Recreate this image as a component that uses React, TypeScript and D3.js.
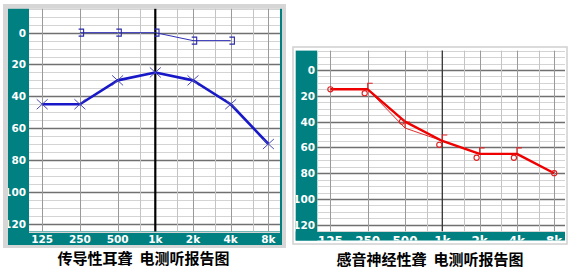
import React from "react";
import * as d3 from "d3";

const FREQS = [125, 250, 500, 1000, 2000, 4000, 8000];
const FREQ_LABELS = ["125", "250", "500", "1k", "2k", "4k", "8k"];
const HALF_FREQS = [750, 1500, 3000, 6000];
const DB_LABELS = [0, 20, 40, 60, 80, 100, 120];
const DB_LINES = d3.range(-15, 126, 5);

// left: conductive hearing loss
const LEFT_AC = [45, 45, 30, 25, 30, 45, 70];
const LEFT_BC_FREQS = [250, 500, 1000, 2000, 4000];
const LEFT_BC = [0, 0, 0, 5, 5];

// right: sensorineural hearing loss
const RIGHT_LINE = [15, 15, 40, 55, 65, 65, 80];
const RIGHT_BC_FREQS = [250, 500, 1000, 2000, 4000];
const RIGHT_BC = [15, 45, 55, 65, 65];
const RIGHT_O = [15, 18, 40, 58, 68, 68, 80];

const TITLE_LEFT = "传导性耳聋  电测听报告图";
const TITLE_RIGHT = "感音神经性聋  电测听报告图";

const TEAL = "#008080";
const FONT = "'DejaVu Sans', sans-serif";
const CJK = "'Noto Sans CJK SC', sans-serif";

type Geo = {
  id: string;
  bandLeft: number;
  plotLeft: number;
  plotRight: number;
  plotTop: number;
  plotBottom: number;
  bandBottom: number;
  x125: number;
  x8k: number;
  labelBaseline: number;
  labelSize: number;
  yLabelRight: number;
  oneKWidth: number;
  oneKColor: string;
  rightBar: boolean;
};

function Frame({ g, children }: { g: Geo; children?: React.ReactNode }) {
  const x = d3.scaleLog().base(2).domain([125, 8000]).range([g.x125, g.x8k]);
  const y = d3.scaleLinear().domain([-15, 125]).range([g.plotTop, g.plotBottom]);
  return (
    <g>
      <defs>
        <clipPath id={g.id + "-yl"}>
          <rect x={g.bandLeft} y={g.plotTop} width={g.plotLeft - g.bandLeft} height={g.bandBottom - g.plotTop} />
        </clipPath>
        <clipPath id={g.id + "-xl"}>
          <rect x={g.plotLeft} y={g.plotBottom} width={g.plotRight - g.plotLeft + 3} height={g.bandBottom - g.plotBottom} />
        </clipPath>
      </defs>
      <rect x={g.plotLeft} y={g.plotTop} width={g.plotRight - g.plotLeft} height={g.plotBottom - g.plotTop} fill="#fff" />
      <rect x={g.bandLeft} y={g.plotTop} width={g.plotLeft - g.bandLeft} height={g.bandBottom - g.plotTop} fill={TEAL} />
      <rect x={g.bandLeft} y={g.plotBottom} width={g.plotRight - g.bandLeft + (g.rightBar ? 2 : 0)} height={g.bandBottom - g.plotBottom} fill={TEAL} />
      {g.rightBar && <rect x={g.plotRight} y={g.plotTop} width={2} height={g.bandBottom - g.plotTop} fill={TEAL} />}
      {DB_LINES.map((d) => (
        <line key={"h" + d} x1={g.plotLeft} x2={g.plotRight} y1={Math.round(y(d)) + 0.5} y2={Math.round(y(d)) + 0.5}
          stroke={d % 20 === 0 ? "#707070" : "#d4d4d4"} strokeWidth={d % 20 === 0 ? 1.3 : 1} />
      ))}
      {HALF_FREQS.map((f) => (
        <line key={"hv" + f} x1={Math.round(x(f)) + 0.5} x2={Math.round(x(f)) + 0.5} y1={g.plotTop} y2={g.plotBottom} stroke="#c4c4c4" />
      ))}
      {FREQS.filter((f) => f !== 1000).map((f) => (
        <line key={"v" + f} x1={Math.round(x(f)) + 0.5} x2={Math.round(x(f)) + 0.5} y1={g.plotTop} y2={g.plotBottom} stroke="#9a9a9a" />
      ))}
      <line x1={x(1000)} x2={x(1000)} y1={g.plotTop} y2={g.plotBottom} stroke={g.oneKColor} strokeWidth={g.oneKWidth} />
      <g clipPath={`url(#${g.id}-yl)`}>
        {DB_LABELS.map((d) => (
          <text key={"yl" + d} x={g.yLabelRight} y={y(d) + 4} textAnchor="end" fill="#fff" fontFamily={FONT} fontWeight="bold" fontSize={10.5}>
            {d}
          </text>
        ))}
      </g>
      <g clipPath={`url(#${g.id}-xl)`}>
        {FREQS.map((f, i) => (
          <text key={"xl" + f} x={x(f)} y={g.labelBaseline} textAnchor="middle" fill="#fff" fontFamily={FONT} fontWeight="bold" fontSize={g.labelSize}>
            {FREQ_LABELS[i]}
          </text>
        ))}
      </g>
      {children}
    </g>
  );
}

const LG: Geo = {
  id: "L", bandLeft: 8, plotLeft: 29, plotRight: 280, plotTop: 8.8, plotBottom: 231.5, bandBottom: 245,
  x125: 42.2, x8k: 268.4, labelBaseline: 243, labelSize: 10.5, yLabelRight: 26, oneKWidth: 2.2, oneKColor: "#000", rightBar: true,
};
const RG: Geo = {
  id: "R", bandLeft: 295.7, plotLeft: 317.3, plotRight: 565, plotTop: 50.6, plotBottom: 231.3, bandBottom: 240.5,
  x125: 330.4, x8k: 554.2, labelBaseline: 244.5, labelSize: 12, yLabelRight: 315, oneKWidth: 1.3, oneKColor: "#333", rightBar: false,
};

export default function App() {
  const lx = d3.scaleLog().base(2).domain([125, 8000]).range([LG.x125, LG.x8k]);
  const ly = d3.scaleLinear().domain([-15, 125]).range([LG.plotTop, LG.plotBottom]);
  const rx = d3.scaleLog().base(2).domain([125, 8000]).range([RG.x125, RG.x8k]);
  const ry = d3.scaleLinear().domain([-15, 125]).range([RG.plotTop, RG.plotBottom]);

  const line = d3.line<[number, number]>().x((d) => d[0]).y((d) => d[1]);

  const leftAC = FREQS.map((f, i) => [lx(f), ly(LEFT_AC[i])] as [number, number]);
  const leftBC = LEFT_BC_FREQS.map((f, i) => [lx(f), ly(LEFT_BC[i])] as [number, number]);
  const rightLine = FREQS.map((f, i) => [rx(f), ry(RIGHT_LINE[i])] as [number, number]);
  const rightBC = RIGHT_BC_FREQS.map((f, i) => [rx(f), ry(RIGHT_BC[i])] as [number, number]);

  return (
    <svg width={569} height={272} style={{ position: "absolute", left: 0, top: 0, background: "#fff" }}>
      <rect x={3} y={4} width={283} height={244} fill="#d6d6d6" />
      <Frame g={LG}>
        <path d={line(leftBC) || ""} fill="none" stroke="#3030b8" strokeWidth={1} />
        {leftBC.map(([px, py], i) => (
          <path key={"b" + i} d={`M${px - 1.3},${py - 3.5}H${px + 3.7}V${py + 3.5}H${px - 1.3}`} fill="none" stroke="#2a2aa8" strokeWidth={1.1} />
        ))}
        <path d={line(leftAC) || ""} fill="none" stroke="#1818c8" strokeWidth={2.6} strokeLinejoin="round" />
        {leftAC.map(([px, py], i) => (
          <path key={"x" + i} d={`M${px - 5.5},${py - 5}L${px + 5.5},${py + 5}M${px - 5.5},${py + 5}L${px + 5.5},${py - 5}`} stroke="#4a4ab0" strokeWidth={1} />
        ))}
      </Frame>

      <rect x={293} y={47} width={274} height={197} fill="none" stroke="#d0d0d0" strokeWidth={1.5} />
      <Frame g={RG}>
        <path d={line(rightBC) || ""} fill="none" stroke="#e03030" strokeWidth={1} />
        {rightBC.map(([px, py], i) => (
          <path key={"rb" + i} d={`M${px + 5},${py - 6}H${px}V${py}`} fill="none" stroke="#e02020" strokeWidth={1.1} />
        ))}
        <path d={line(rightLine) || ""} fill="none" stroke="#ee0000" strokeWidth={2.4} strokeLinejoin="round" />
        {FREQS.map((f, i) => {
          const shifted = RIGHT_BC_FREQS.includes(f);
          return (
            <circle key={"o" + f} cx={rx(f) - (shifted ? 3 : 0)} cy={ry(RIGHT_O[i])} r={2.6} fill="none" stroke="#e02020" strokeWidth={1.1} />
          );
        })}
      </Frame>

      <text x={143.5} y={264} textAnchor="middle" fontFamily={CJK} fontWeight="bold" fontSize={15} fill="#000" style={{ whiteSpace: "pre" }}>{TITLE_LEFT}</text>
      <text x={430} y={265} textAnchor="middle" fontFamily={CJK} fontWeight="bold" fontSize={15} fill="#000" style={{ whiteSpace: "pre" }}>{TITLE_RIGHT}</text>
    </svg>
  );
}
